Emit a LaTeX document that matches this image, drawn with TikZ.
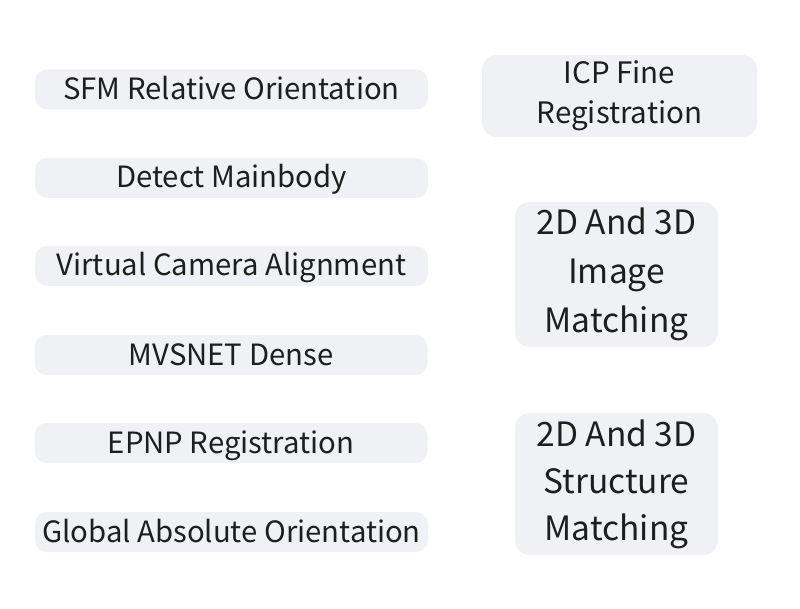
\documentclass[tikz,border=0pt]{standalone}
\usepackage{fontspec}
\setmainfont{Noto Sans CJK SC}
\definecolor{boxfill}{HTML}{EFF1F4}
\definecolor{txt}{HTML}{1E1E1E}
\begin{document}
\begin{tikzpicture}[x=1pt,y=-1pt,
  leftbox/.style={fill=boxfill,rounded corners=12pt,minimum width=393pt,minimum height=40pt,inner sep=0pt,text height=22pt,text depth=2pt,text=txt,font=\fontsize{29.3}{31}\selectfont},
  rightbox/.style={fill=boxfill,rounded corners=15pt,inner sep=0pt,text=txt,align=center}]
\useasboundingbox (0,0) rectangle (800,609);
\node[leftbox] (sfm) at (231.5,89.5) {SFM Relative Orientation};
\node[leftbox] (det) at (231.5,178) {Detect Mainbody};
\node[leftbox] (vca) at (231.5,266) {Virtual Camera Alignment};
\node[leftbox] (mvs) at (231,355) {MVSNET Dense};
\node[leftbox] (epn) at (231,443) {EPNP Registration};
\node[leftbox] (gao) at (231.5,532) {Global Absolute Orientation};
\node[rightbox,minimum width=275pt,minimum height=82pt,font=\fontsize{29.5}{42}\selectfont] (icp) at (619.5,96) {\raisebox{-2pt}{ICP Fine}\\Registration};
\node[rightbox,minimum width=203pt,minimum height=145pt,font=\fontsize{33.5}{49}\selectfont] (img) at (616.5,274.5) {2D And 3D\\Image\\Matching};
\node[rightbox,minimum width=203pt,minimum height=142pt,font=\fontsize{33.5}{47}\selectfont] (str) at (616.5,484) {2D And 3D\\Structure\\Matching};
\end{tikzpicture}
\end{document}
